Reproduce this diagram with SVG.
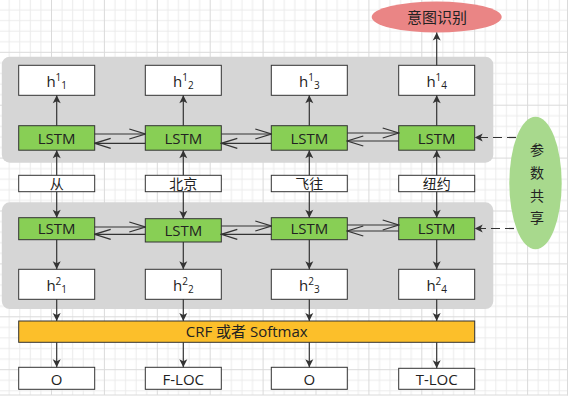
<svg xmlns="http://www.w3.org/2000/svg" width="570" height="407" viewBox="0 0 570 407">
<defs>
<pattern id="grid" x="-1.9" y="-1.1" width="52.9" height="52.9" patternUnits="userSpaceOnUse">
<rect x="10.58" y="0" width="1" height="52.9" fill="#ebebeb"/>
<rect x="21.16" y="0" width="1" height="52.9" fill="#ebebeb"/>
<rect x="31.74" y="0" width="1" height="52.9" fill="#ebebeb"/>
<rect x="42.32" y="0" width="1" height="52.9" fill="#ebebeb"/>
<rect x="0" y="10.58" width="52.9" height="1" fill="#ebebeb"/>
<rect x="0" y="21.16" width="52.9" height="1" fill="#ebebeb"/>
<rect x="0" y="31.74" width="52.9" height="1" fill="#ebebeb"/>
<rect x="0" y="42.32" width="52.9" height="1" fill="#ebebeb"/>
<rect x="0" y="0" width="1" height="52.9" fill="#dadada"/>
<rect x="0" y="0" width="52.9" height="1" fill="#dadada"/>
</pattern>
<marker id="head" viewBox="-9 -5 10 10" refX="0" refY="0" markerWidth="10" markerHeight="10" markerUnits="userSpaceOnUse" orient="auto">
<path d="M0,0 L-8,-4 L-6,0 L-8,4 Z" fill="#333"/>
</marker>
<marker id="open" viewBox="-18 -7 19 14" refX="0" refY="0" markerWidth="19" markerHeight="14" markerUnits="userSpaceOnUse" orient="auto">
<path d="M-16,-5 L0,0 L-16,5" fill="none" stroke="#333" stroke-width="1.3"/>
</marker>
</defs>
<style>
.box{fill:#fff;stroke:#333;stroke-width:1}
.lstm{fill:#88cf55;stroke:#333;stroke-width:1}
.panel{fill:#d6d6d6}
.t{font-family:"Open Sans","Noto Sans CJK SC",sans-serif;font-size:15px;fill:#222;text-anchor:middle}
.cn{font-family:"Noto Sans CJK SC","Open Sans",sans-serif;font-size:14px;fill:#222;text-anchor:middle}
.s{font-size:10px}
.c{stroke:#333;stroke-width:1.2;fill:none}
.v{marker-end:url(#head)}
.h{marker-end:url(#open)}
.d{stroke-dasharray:9 5;marker-end:url(#head)}
</style>
<rect x="0" y="0" width="567.5" height="395" fill="#fff"/>
<rect x="0" y="0" width="567.5" height="395" fill="url(#grid)"/>
<line x1="567.5" y1="0" x2="567.5" y2="395.5" stroke="#dadada"/>
<line x1="0" y1="395" x2="568" y2="395" stroke="#dadada"/>

<g id="panel-top"><rect class="panel" x="1.8" y="56.7" width="491.5" height="106" rx="8"/></g>
<g id="panel-bottom"><rect class="panel" x="1.8" y="202.3" width="491.5" height="106.7" rx="8"/></g>

<g id="intent"><ellipse cx="436.7" cy="17" rx="65" ry="15.5" fill="#ea8585"/><text class="cn" style="font-size:15px" x="437" y="22.5">意图识别</text></g>
<g id="share"><ellipse cx="535.5" cy="183" rx="26.2" ry="66.3" fill="#a8d98d"/>
<text class="cn" x="537" y="155">参</text><text class="cn" x="537" y="178">数</text><text class="cn" x="537" y="201">共</text><text class="cn" x="537" y="222.5">享</text></g>

<g id="h1-1"><rect class="box" x="18.7" y="65.3" width="76" height="30"/><text class="t" x="56.7" y="87">h<tspan class="s" dy="-6">1</tspan><tspan class="s" dy="7.5">1</tspan></text></g>
<g id="h1-2"><rect class="box" x="145.3" y="65.3" width="76" height="30"/><text class="t" x="183.3" y="87">h<tspan class="s" dy="-6">1</tspan><tspan class="s" dy="7.5">2</tspan></text></g>
<g id="h1-3"><rect class="box" x="271.3" y="65.3" width="76" height="30"/><text class="t" x="309.3" y="87">h<tspan class="s" dy="-6">1</tspan><tspan class="s" dy="7.5">3</tspan></text></g>
<g id="h1-4"><rect class="box" x="398.7" y="65.3" width="76" height="30"/><text class="t" x="436.7" y="87">h<tspan class="s" dy="-6">1</tspan><tspan class="s" dy="7.5">4</tspan></text></g>

<g id="lstm1-1"><rect class="lstm" x="18.7" y="125.7" width="76" height="24.5"/><text class="t" x="56.7" y="143.8">LSTM</text></g>
<g id="lstm1-2"><rect class="lstm" x="145.3" y="125.7" width="76" height="24.5"/><text class="t" x="183.3" y="143.8">LSTM</text></g>
<g id="lstm1-3"><rect class="lstm" x="271.3" y="125.7" width="76" height="24.5"/><text class="t" x="309.3" y="143.8">LSTM</text></g>
<g id="lstm1-4"><rect class="lstm" x="398.7" y="125.7" width="76" height="24.5"/><text class="t" x="436.7" y="143.8">LSTM</text></g>

<g id="w1"><rect class="box" x="18.7" y="175.3" width="76" height="16.4"/><text class="cn" x="56.7" y="188.5">从</text></g>
<g id="w2"><rect class="box" x="145.3" y="175.3" width="76" height="16.4"/><text class="cn" x="183.3" y="188.5">北京</text></g>
<g id="w3"><rect class="box" x="271.3" y="175.3" width="76" height="16.4"/><text class="cn" x="309.3" y="188.5">飞往</text></g>
<g id="w4"><rect class="box" x="398.7" y="175.3" width="76" height="16.4"/><text class="cn" x="436.7" y="188.5">纽约</text></g>

<g id="lstm2-1"><rect class="lstm" x="18.7" y="217.7" width="76" height="22"/><text class="t" x="56.7" y="234">LSTM</text></g>
<g id="lstm2-2"><rect class="lstm" x="145.3" y="218.7" width="76" height="23.3"/><text class="t" x="183.3" y="235.5">LSTM</text></g>
<g id="lstm2-3"><rect class="lstm" x="271.3" y="217.7" width="76" height="22"/><text class="t" x="309.3" y="234">LSTM</text></g>
<g id="lstm2-4"><rect class="lstm" x="398.7" y="217.7" width="76" height="22"/><text class="t" x="436.7" y="234">LSTM</text></g>

<g id="h2-1"><rect class="box" x="18.7" y="269.3" width="76" height="30"/><text class="t" x="56.7" y="291">h<tspan class="s" dy="-6">2</tspan><tspan class="s" dy="7.5">1</tspan></text></g>
<g id="h2-2"><rect class="box" x="145.3" y="269.3" width="76" height="30"/><text class="t" x="183.3" y="291">h<tspan class="s" dy="-6">2</tspan><tspan class="s" dy="7.5">2</tspan></text></g>
<g id="h2-3"><rect class="box" x="271.3" y="269.3" width="76" height="30"/><text class="t" x="309.3" y="291">h<tspan class="s" dy="-6">2</tspan><tspan class="s" dy="7.5">3</tspan></text></g>
<g id="h2-4"><rect class="box" x="398.7" y="269.3" width="76" height="30"/><text class="t" x="436.7" y="291">h<tspan class="s" dy="-6">2</tspan><tspan class="s" dy="7.5">4</tspan></text></g>

<g id="crf"><rect x="18.7" y="321" width="456" height="21.3" fill="#fcbf2a" stroke="#333" stroke-width="1"/><text class="t" x="246.7" y="337.3">CRF 或者 Softmax</text></g>

<g id="o1"><rect class="box" x="18.7" y="367.3" width="76" height="22"/><text class="t" x="56.7" y="385">O</text></g>
<g id="o2"><rect class="box" x="145.3" y="367.3" width="76" height="22"/><text class="t" x="183.3" y="385">F-LOC</text></g>
<g id="o3"><rect class="box" x="271.3" y="367.3" width="76" height="22"/><text class="t" x="309.3" y="385">O</text></g>
<g id="o4"><rect class="box" x="398.7" y="368.3" width="76" height="21"/><text class="t" x="436.7" y="385">T-LOC</text></g>

<g id="connectors">
<line class="c v" x1="436.7" y1="65.3" x2="436.7" y2="32.6"/>
<line class="c v" x1="56.7" y1="125.7" x2="56.7" y2="95.3"/>
<line class="c v" x1="183.3" y1="125.7" x2="183.3" y2="95.3"/>
<line class="c v" x1="309.3" y1="125.7" x2="309.3" y2="95.3"/>
<line class="c v" x1="436.7" y1="125.7" x2="436.7" y2="95.3"/>
<line class="c v" x1="56.7" y1="175.3" x2="56.7" y2="150.2"/>
<line class="c v" x1="183.3" y1="175.3" x2="183.3" y2="150.2"/>
<line class="c v" x1="309.3" y1="175.3" x2="309.3" y2="150.2"/>
<line class="c v" x1="436.7" y1="175.3" x2="436.7" y2="150.2"/>
<line class="c v" x1="56.7" y1="191.7" x2="56.7" y2="217.7"/>
<line class="c v" x1="183.3" y1="191.7" x2="183.3" y2="218.7"/>
<line class="c v" x1="309.3" y1="191.7" x2="309.3" y2="217.7"/>
<line class="c v" x1="436.7" y1="191.7" x2="436.7" y2="217.7"/>
<line class="c v" x1="56.7" y1="239.7" x2="56.7" y2="269.3"/>
<line class="c v" x1="183.3" y1="242" x2="183.3" y2="269.3"/>
<line class="c v" x1="309.3" y1="239.7" x2="309.3" y2="269.3"/>
<line class="c v" x1="436.7" y1="239.7" x2="436.7" y2="269.3"/>
<line class="c v" x1="56.7" y1="299.3" x2="56.7" y2="321"/>
<line class="c v" x1="183.3" y1="299.3" x2="183.3" y2="321"/>
<line class="c v" x1="309.3" y1="299.3" x2="309.3" y2="321"/>
<line class="c v" x1="436.7" y1="299.3" x2="436.7" y2="321"/>
<line class="c v" x1="56.7" y1="342.3" x2="56.7" y2="367.3"/>
<line class="c v" x1="183.3" y1="342.3" x2="183.3" y2="367.3"/>
<line class="c v" x1="309.3" y1="342.3" x2="309.3" y2="367.3"/>
<line class="c v" x1="436.7" y1="342.3" x2="436.7" y2="368.3"/>

<line class="c h" x1="94.7" y1="134" x2="145.3" y2="134"/>
<line class="c h" x1="145.3" y1="143.3" x2="94.7" y2="143.3"/>
<line class="c h" x1="221.3" y1="134" x2="271.3" y2="134"/>
<line class="c h" x1="271.3" y1="143.3" x2="221.3" y2="143.3"/>
<line class="c h" x1="347.3" y1="133" x2="398.7" y2="133"/>
<line class="c h" x1="398.7" y1="141" x2="347.3" y2="141"/>

<line class="c h" x1="94.7" y1="227" x2="145.3" y2="227"/>
<line class="c h" x1="145.3" y1="234.3" x2="94.7" y2="234.3"/>
<line class="c h" x1="221.3" y1="226" x2="271.3" y2="226"/>
<line class="c h" x1="271.3" y1="234.3" x2="221.3" y2="234.3"/>
<line class="c h" x1="347.3" y1="225" x2="398.7" y2="225"/>
<line class="c h" x1="398.7" y1="231" x2="347.3" y2="231"/>

<line class="c d" x1="516" y1="137.5" x2="474.7" y2="137.5"/>
<line class="c d" x1="514" y1="228.5" x2="474.7" y2="228.5"/>
</g>
</svg>
